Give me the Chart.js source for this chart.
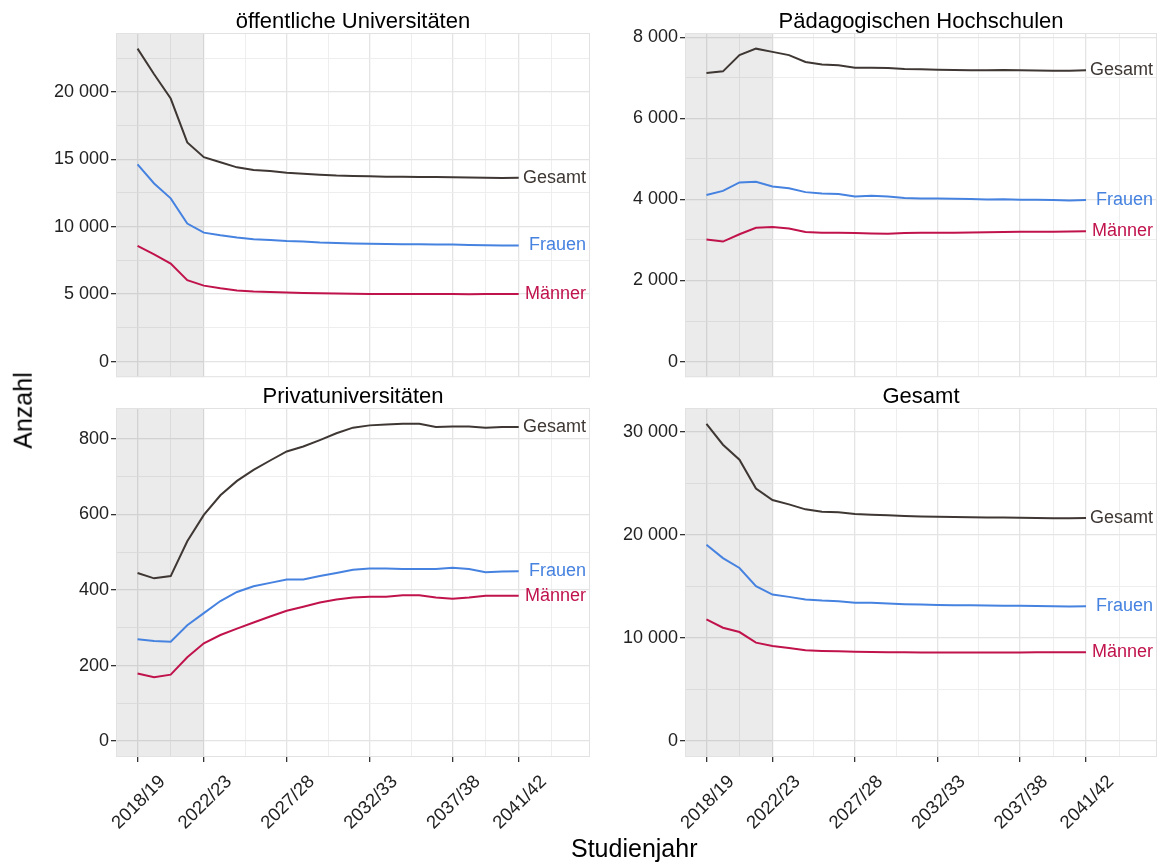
<!DOCTYPE html>
<html>
<head>
<meta charset="utf-8">
<script src="https://cdn.jsdelivr.net/npm/chart.js@4.4.1/dist/chart.umd.min.js"></script>
<style>
  body { margin: 0; background: #fff; font-family: "Liberation Sans", Arial, sans-serif; }
  #wrap { position: relative; width: 1157px; height: 866px; overflow: hidden; }
  canvas { position: absolute; }
  .achse { position: absolute; font-size: 25px; color: #000; white-space: nowrap; }
</style>
</head>
<body>
<div id="wrap">
  <canvas id="oeff" width="600" height="390" style="left:0;top:0"></canvas>
  <canvas id="ph" width="557" height="390" style="left:600px;top:0"></canvas>
  <canvas id="priv" width="600" height="496" style="left:0;top:370px"></canvas>
  <canvas id="alle" width="557" height="496" style="left:600px;top:370px"></canvas>
  <div class="achse" style="left:571px;top:834px">Studienjahr</div>
  <div class="achse" style="left:-15px;top:396px;transform:rotate(-90deg)">Anzahl</div>
</div>
<script>
// Studienjahre
var jahre = ["2018/19", "2019/20", "2020/21", "2021/22", "2022/23", "2023/24", "2024/25", "2025/26",
  "2026/27", "2027/28", "2028/29", "2029/30", "2030/31", "2031/32", "2032/33", "2033/34",
  "2034/35", "2035/36", "2036/37", "2037/38", "2038/39", "2039/40", "2040/41", "2041/42"];
var tickJahre = ["2018/19", "2022/23", "2027/28", "2032/33", "2037/38", "2041/42"];
var grauBis = "2022/23";

// öffentliche Universitäten
var oeffGesamt = [23200, 21300, 19500, 16250, 15150, 14780, 14400, 14200, 14130, 14000, 13930, 13850,
  13790, 13760, 13730, 13710, 13700, 13690, 13680, 13660, 13640, 13620, 13610, 13620];
var oeffFrauen = [14620, 13200, 12100, 10230, 9560, 9360, 9190, 9070, 9020, 8930, 8900, 8830,
  8790, 8750, 8730, 8710, 8700, 8690, 8680, 8670, 8650, 8620, 8600, 8610];
var oeffMaenner = [8580, 7940, 7260, 6040, 5630, 5430, 5260, 5190, 5160, 5120, 5090, 5060,
  5040, 5030, 5010, 5000, 5010, 5010, 5000, 5000, 4990, 5000, 5000, 5000];
var oeffTicks = [0, 5000, 10000, 15000, 20000];

// Pädagogische Hochschulen
var phGesamt = [7120, 7160, 7560, 7720, 7640, 7560, 7390, 7330, 7310, 7250, 7250, 7240,
  7220, 7210, 7200, 7195, 7190, 7185, 7195, 7185, 7180, 7175, 7175, 7185];
var phFrauen = [4110, 4210, 4420, 4435, 4320, 4275, 4180, 4145, 4135, 4075, 4090, 4075,
  4035, 4025, 4020, 4015, 4010, 4000, 4005, 3995, 3990, 3985, 3975, 3985];
var phMaenner = [3010, 2960, 3140, 3300, 3320, 3285, 3195, 3180, 3180, 3170, 3160, 3155,
  3170, 3180, 3180, 3180, 3185, 3190, 3195, 3200, 3200, 3205, 3210, 3215];
var phTicks = [0, 2000, 4000, 6000, 8000];

// Privatuniversitäten
var privGesamt = [445, 431, 437, 529, 599, 651, 689, 718, 743, 767, 780, 797,
  815, 830, 836, 838, 840, 840, 832, 833, 833, 830, 832, 832];
var privFrauen = [270, 265, 263, 307, 339, 371, 395, 410, 419, 428, 428, 437,
  445, 454, 457, 457, 456, 456, 456, 459, 456, 447, 449, 450];
var privMaenner = [179, 169, 176, 222, 259, 281, 298, 314, 330, 345, 356, 367,
  375, 380, 382, 382, 386, 386, 380, 377, 380, 385, 385, 385];
var privTicks = [0, 200, 400, 600, 800];

// Gesamt
var alleGesamt = [30770, 28750, 27300, 24500, 23380, 22960, 22480, 22250, 22190, 22030, 21960, 21900,
  21830, 21790, 21750, 21730, 21720, 21700, 21690, 21670, 21650, 21620, 21610, 21630];
var alleFrauen = [19040, 17750, 16790, 15020, 14210, 13990, 13730, 13630, 13570, 13410, 13410, 13340,
  13280, 13250, 13210, 13190, 13170, 13150, 13140, 13120, 13100, 13080, 13060, 13070];
var alleMaenner = [11800, 11000, 10580, 9550, 9230, 9040, 8810, 8750, 8720, 8680, 8650, 8620,
  8620, 8590, 8600, 8590, 8590, 8600, 8600, 8600, 8610, 8610, 8610, 8620];
var alleTicks = [0, 10000, 20000, 30000];

var farben = { Gesamt: "#3e3733", Frauen: "#4682e0", "Männer": "#c0134c" };

Chart.defaults.font.family = "'Liberation Sans', Arial, sans-serif";
Chart.defaults.color = "#222";

function zahl(v) {
  return String(v).replace(/\B(?=(\d{3})+(?!\d))/g, " ");
}

// major + halbe Schritte als minor Gitterlinien (wie ggplot)
function mitMinor(major, lo, hi) {
  var out = [];
  for (var i = 0; i < major.length; i++) {
    out.push({ v: major[i], major: true });
    var next = i < major.length - 1 ? major[i + 1] : major[i] + (major[i] - major[i - 1]);
    out.push({ v: (major[i] + next) / 2, major: false });
  }
  return out.filter(function (t) { return t.v >= lo && t.v <= hi; });
}

var panelPlugin = {
  id: "panel",
  beforeDatasetsDraw: function (chart) {
    var a = chart.chartArea, ctx = chart.ctx;
    var xr = chart.scales.x.getPixelForValue(jahre.indexOf(grauBis));
    ctx.save();
    ctx.fillStyle = "rgba(0,0,0,0.08)";
    ctx.fillRect(a.left, a.top, xr - a.left, a.bottom - a.top);
    ctx.restore();
  },
  afterDatasetsDraw: function (chart) {
    var a = chart.chartArea, ctx = chart.ctx;
    ctx.save();
    ctx.font = "18px 'Liberation Sans', Arial, sans-serif";
    ctx.textAlign = "right";
    ctx.textBaseline = "middle";
    chart.data.datasets.forEach(function (ds, i) {
      var pts = chart.getDatasetMeta(i).data;
      var last = pts[pts.length - 1];
      ctx.fillStyle = ds.borderColor;
      ctx.fillText(ds.label, a.right - 4, last.y);
    });
    ctx.strokeStyle = "#e2e2e2";
    ctx.lineWidth = 1;
    ctx.strokeRect(a.left + 0.5, a.top + 0.5, a.right - a.left - 1, a.bottom - a.top - 1);
    ctx.fillStyle = "#000";
    ctx.font = "22px 'Liberation Sans', Arial, sans-serif";
    ctx.textAlign = "center";
    ctx.textBaseline = "alphabetic";
    ctx.fillText(chart.options.plugins.panel.titel, (a.left + a.right) / 2, a.top - 5);
    ctx.restore();
  }
};

function panel(id, titel, gesamt, frauen, maenner, yTicks, unten, yBreite) {
  var ymax = Math.max.apply(null, gesamt.concat(frauen, maenner));
  var ylo = -0.05 * ymax, yhi = 1.05 * ymax;
  var xlo = -1.3, xhi = 27.3;
  var xMajor = tickJahre.map(function (t) { return jahre.indexOf(t); });
  var xTicks = mitMinor(xMajor, xlo, xhi);
  var yT = mitMinor(yTicks, ylo, yhi);
  var isMajorX = function (v) { return xMajor.indexOf(v) >= 0; };
  var isMajorY = function (v) { return yTicks.indexOf(v) >= 0; };

  function serie(name, werte) {
    return {
      label: name,
      data: werte.map(function (v, i) { return { x: i, y: v }; }),
      borderColor: farben[name],
      borderWidth: 2,
      pointRadius: 0,
      tension: 0
    };
  }

  return new Chart(document.getElementById(id), {
    type: "line",
    data: { datasets: [serie("Gesamt", gesamt), serie("Frauen", frauen), serie("Männer", maenner)] },
    plugins: [panelPlugin],
    options: {
      responsive: false,
      animation: false,
      layout: { padding: { left: 0, right: yBreite === 116 ? 10 : 0, top: unten ? 38 : 33, bottom: unten ? 0 : 6 } },
      plugins: { legend: { display: false }, tooltip: { enabled: false }, panel: { titel: titel } },
      scales: {
        x: {
          type: "linear", min: xlo, max: xhi,
          afterBuildTicks: function (s) { s.ticks = xTicks.map(function (t) { return { value: t.v }; }); },
          afterFit: function (s) { s.height = unten ? 109 : 0; },
          border: { display: false },
          grid: {
            color: function (c) { return isMajorX(c.tick.value) ? "#e4e4e4" : "#ececec"; },
            lineWidth: function (c) { return isMajorX(c.tick.value) ? 1.3 : 0.9; },
            drawTicks: unten, tickLength: 5, tickWidth: 1.3,
            tickColor: function (c) { return isMajorX(c.tick.value) ? "#333" : "rgba(0,0,0,0)"; }
          },
          ticks: {
            display: unten, autoSkip: false, minRotation: 45, maxRotation: 45, padding: 9, labelOffset: 25,
            font: { size: 18.5 }, color: "#222",
            callback: function (v) { var k = xMajor.indexOf(v); return k >= 0 ? tickJahre[k] : ""; }
          }
        },
        y: {
          type: "linear", min: ylo, max: yhi,
          afterBuildTicks: function (s) { s.ticks = yT.map(function (t) { return { value: t.v }; }); },
          afterFit: function (s) { s.width = yBreite; },
          border: { display: false },
          grid: {
            color: function (c) { return isMajorY(c.tick.value) ? "#e4e4e4" : "#ececec"; },
            lineWidth: function (c) { return isMajorY(c.tick.value) ? 1.3 : 0.9; },
            tickLength: 5, tickWidth: 1.3,
            tickColor: function (c) { return isMajorY(c.tick.value) ? "#333" : "rgba(0,0,0,0)"; }
          },
          ticks: {
            padding: 2, font: { size: 18 }, color: "#222",
            callback: function (v) { return isMajorY(v) ? zahl(v) : ""; }
          }
        }
      }
    }
  });
}

panel("oeff", "öffentliche Universitäten", oeffGesamt, oeffFrauen, oeffMaenner, oeffTicks, false, 116);
panel("ph", "Pädagogischen Hochschulen", phGesamt, phFrauen, phMaenner, phTicks, false, 85);
panel("priv", "Privatuniversitäten", privGesamt, privFrauen, privMaenner, privTicks, true, 116);
panel("alle", "Gesamt", alleGesamt, alleFrauen, alleMaenner, alleTicks, true, 85);
</script>
</body>
</html>
